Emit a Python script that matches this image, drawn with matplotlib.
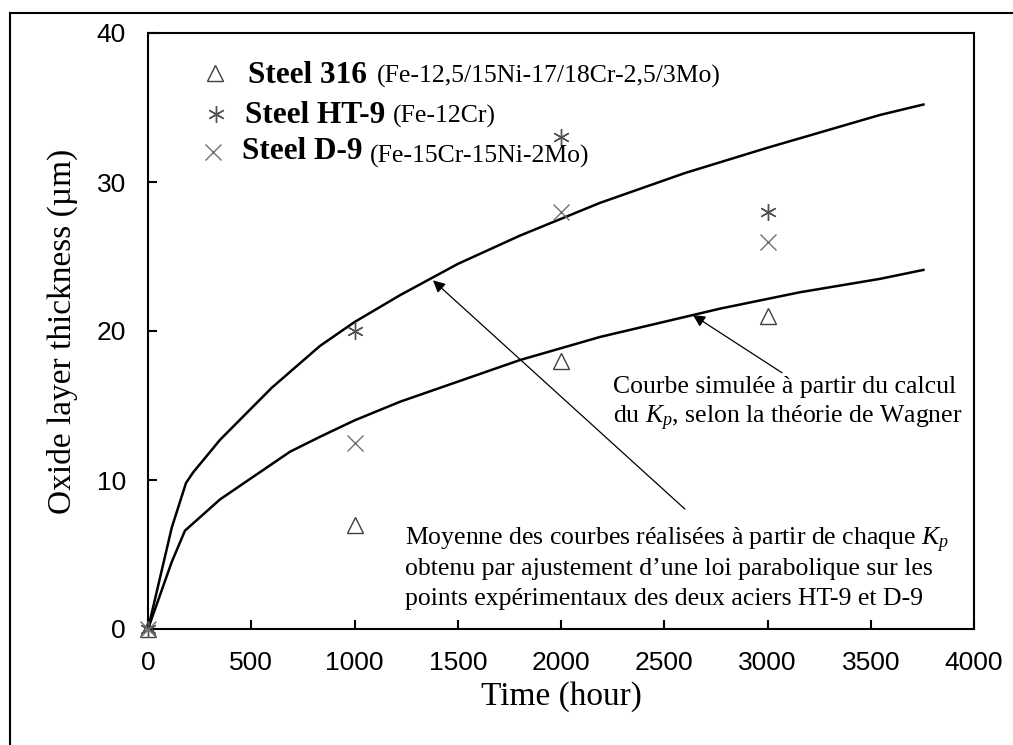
import matplotlib
matplotlib.use("Agg")
import matplotlib.pyplot as plt
from matplotlib.lines import Line2D

plt.rcParams["mathtext.fontset"] = "custom"
plt.rcParams["mathtext.rm"] = "Liberation Serif"
plt.rcParams["mathtext.it"] = "Liberation Serif:italic"

W, H = 1013, 745
SERIF = "Liberation Serif"
SANS = "Liberation Sans"

# --- points expérimentaux ---
t_exp = [0, 1000, 2000, 3000]
steel_316 = [0, 7, 18, 21]
steel_ht9 = [0, 20, 33, 28]
steel_d9 = [0, 12.5, 28, 26]

# --- courbes ---
t_fit = [0, 115, 184, 218, 349, 600, 833, 1000, 1220, 1500, 1801, 2189, 2600, 3000, 3545, 3755]
y_fit = [0, 6.8, 9.8, 10.5, 12.7, 16.2, 19.0, 20.6, 22.4, 24.5, 26.4, 28.6, 30.6, 32.3, 34.5, 35.2]
t_wag = [0, 115, 179, 349, 688, 833, 1000, 1220, 1801, 2189, 2770, 3157, 3545, 3755]
y_wag = [0, 4.5, 6.6, 8.7, 11.9, 12.9, 14.0, 15.25, 18.05, 19.6, 21.5, 22.6, 23.5, 24.1]

xticks = [0, 500, 1000, 1500, 2000, 2500, 3000, 3500, 4000]
yticks = [0, 10, 20, 30, 40]


def px(x, y):
    return x / W, 1 - y / H


fig = plt.figure(figsize=(W / 100, H / 100), dpi=100)
ax = fig.add_axes([148 / W, 1 - 629 / H, (974 - 148) / W, (629 - 33) / H])

# cadre extérieur
fig.add_artist(Line2D([10 / W, 10 / W], [0, 1 - 13 / H], transform=fig.transFigure, color="k", lw=1.5))
fig.add_artist(Line2D([10 / W, 1], [1 - 13 / H, 1 - 13 / H], transform=fig.transFigure, color="k", lw=1.5))

ax.plot(t_fit, y_fit, color="k", lw=1.8, zorder=3)
ax.plot(t_wag, y_wag, color="k", lw=1.8, zorder=3)

ax.plot(t_exp, steel_316, ls="none", marker="^", ms=12, mfc="none", mec="#404040", mew=1.0,
        zorder=4, clip_on=False)
ax.plot(t_exp, steel_ht9, ls="none", marker=(6, 2, 0), ms=12, mec="#505050", mew=1.0,
        zorder=4, clip_on=False)
ax.plot(t_exp, steel_d9, ls="none", marker="x", ms=11, mec="#707070", mew=1.0,
        zorder=4, clip_on=False)

ax.set_xlim(0, 4000)
ax.set_ylim(0, 40)
ax.set_xticks(xticks)
ax.set_yticks(yticks)
ax.tick_params(direction="in", length=6.5, width=1.5, pad=16, labelsize=19, top=False, right=False)
for lab in ax.get_xticklabels() + ax.get_yticklabels():
    lab.set_fontfamily(SANS)
for s in ax.spines.values():
    s.set_linewidth(1.5)

fig.text(*px(62, 331), "Oxide layer thickness (µm)", rotation=90, ha="center", va="center",
         family=SERIF, fontsize=24)
fig.text(*px(561, 705), "Time (hour)", ha="center", va="baseline", family=SERIF, fontsize=24)

# légende
leg_y = [73, 114, 152]
ax.plot([215 / W], [1 - leg_y[0] / H], transform=fig.transFigure, marker="^", ms=12, mfc="none",
        mec="#404040", mew=1.0, clip_on=False)
ax.plot([216 / W], [1 - leg_y[1] / H], transform=fig.transFigure, marker=(6, 2, 0), ms=12,
        mec="#505050", mew=1.0, clip_on=False)
ax.plot([213 / W], [1 - leg_y[2] / H], transform=fig.transFigure, marker="x", ms=11,
        mec="#707070", mew=1.0, clip_on=False)

fig.text(*px(248, 83), "Steel 316", family=SERIF, fontsize=22.5, fontweight="bold", va="baseline")
fig.text(*px(377, 83), "(Fe-12,5/15Ni-17/18Cr-2,5/3Mo)", family=SERIF, fontsize=18.5, va="baseline")
fig.text(*px(245, 123), "Steel HT-9", family=SERIF, fontsize=22.5, fontweight="bold", va="baseline")
fig.text(*px(393, 123), "(Fe-12Cr)", family=SERIF, fontsize=18.5, va="baseline")
fig.text(*px(242, 159), "Steel D-9", family=SERIF, fontsize=22.5, fontweight="bold", va="baseline")
fig.text(*px(370, 163), "(Fe-15Cr-15Ni-2Mo)", family=SERIF, fontsize=18.5, va="baseline")

# annotations
arrow = dict(arrowstyle="-|>", color="k", lw=0.9, mutation_scale=18, shrinkA=0, shrinkB=0)
ax.annotate("", xy=(2639, 21.07), xytext=(3070, 17.2), arrowprops=arrow)
ax.annotate("", xy=(1380, 23.4), xytext=(2600, 8.05), arrowprops=arrow)

txt1 = ["Courbe simulée à partir du calcul", r"du $K_p$, selon la théorie de Wagner"]
for i, line in enumerate(txt1):
    fig.text(*px(613, 393 + 30 * i), line, family=SERIF, fontsize=18.5, va="baseline")

txt2 = [r"Moyenne des courbes réalisées à partir de chaque $K_p$",
        "obtenu par ajustement d\u2019une loi parabolique sur les",
        "points expérimentaux des deux aciers HT-9 et D-9"]
for i, line in enumerate(txt2):
    fig.text(*px(405, 545 + 30 * i), line, family=SERIF, fontsize=18.5, va="baseline")

fig.savefig("out.png", dpi=100)
